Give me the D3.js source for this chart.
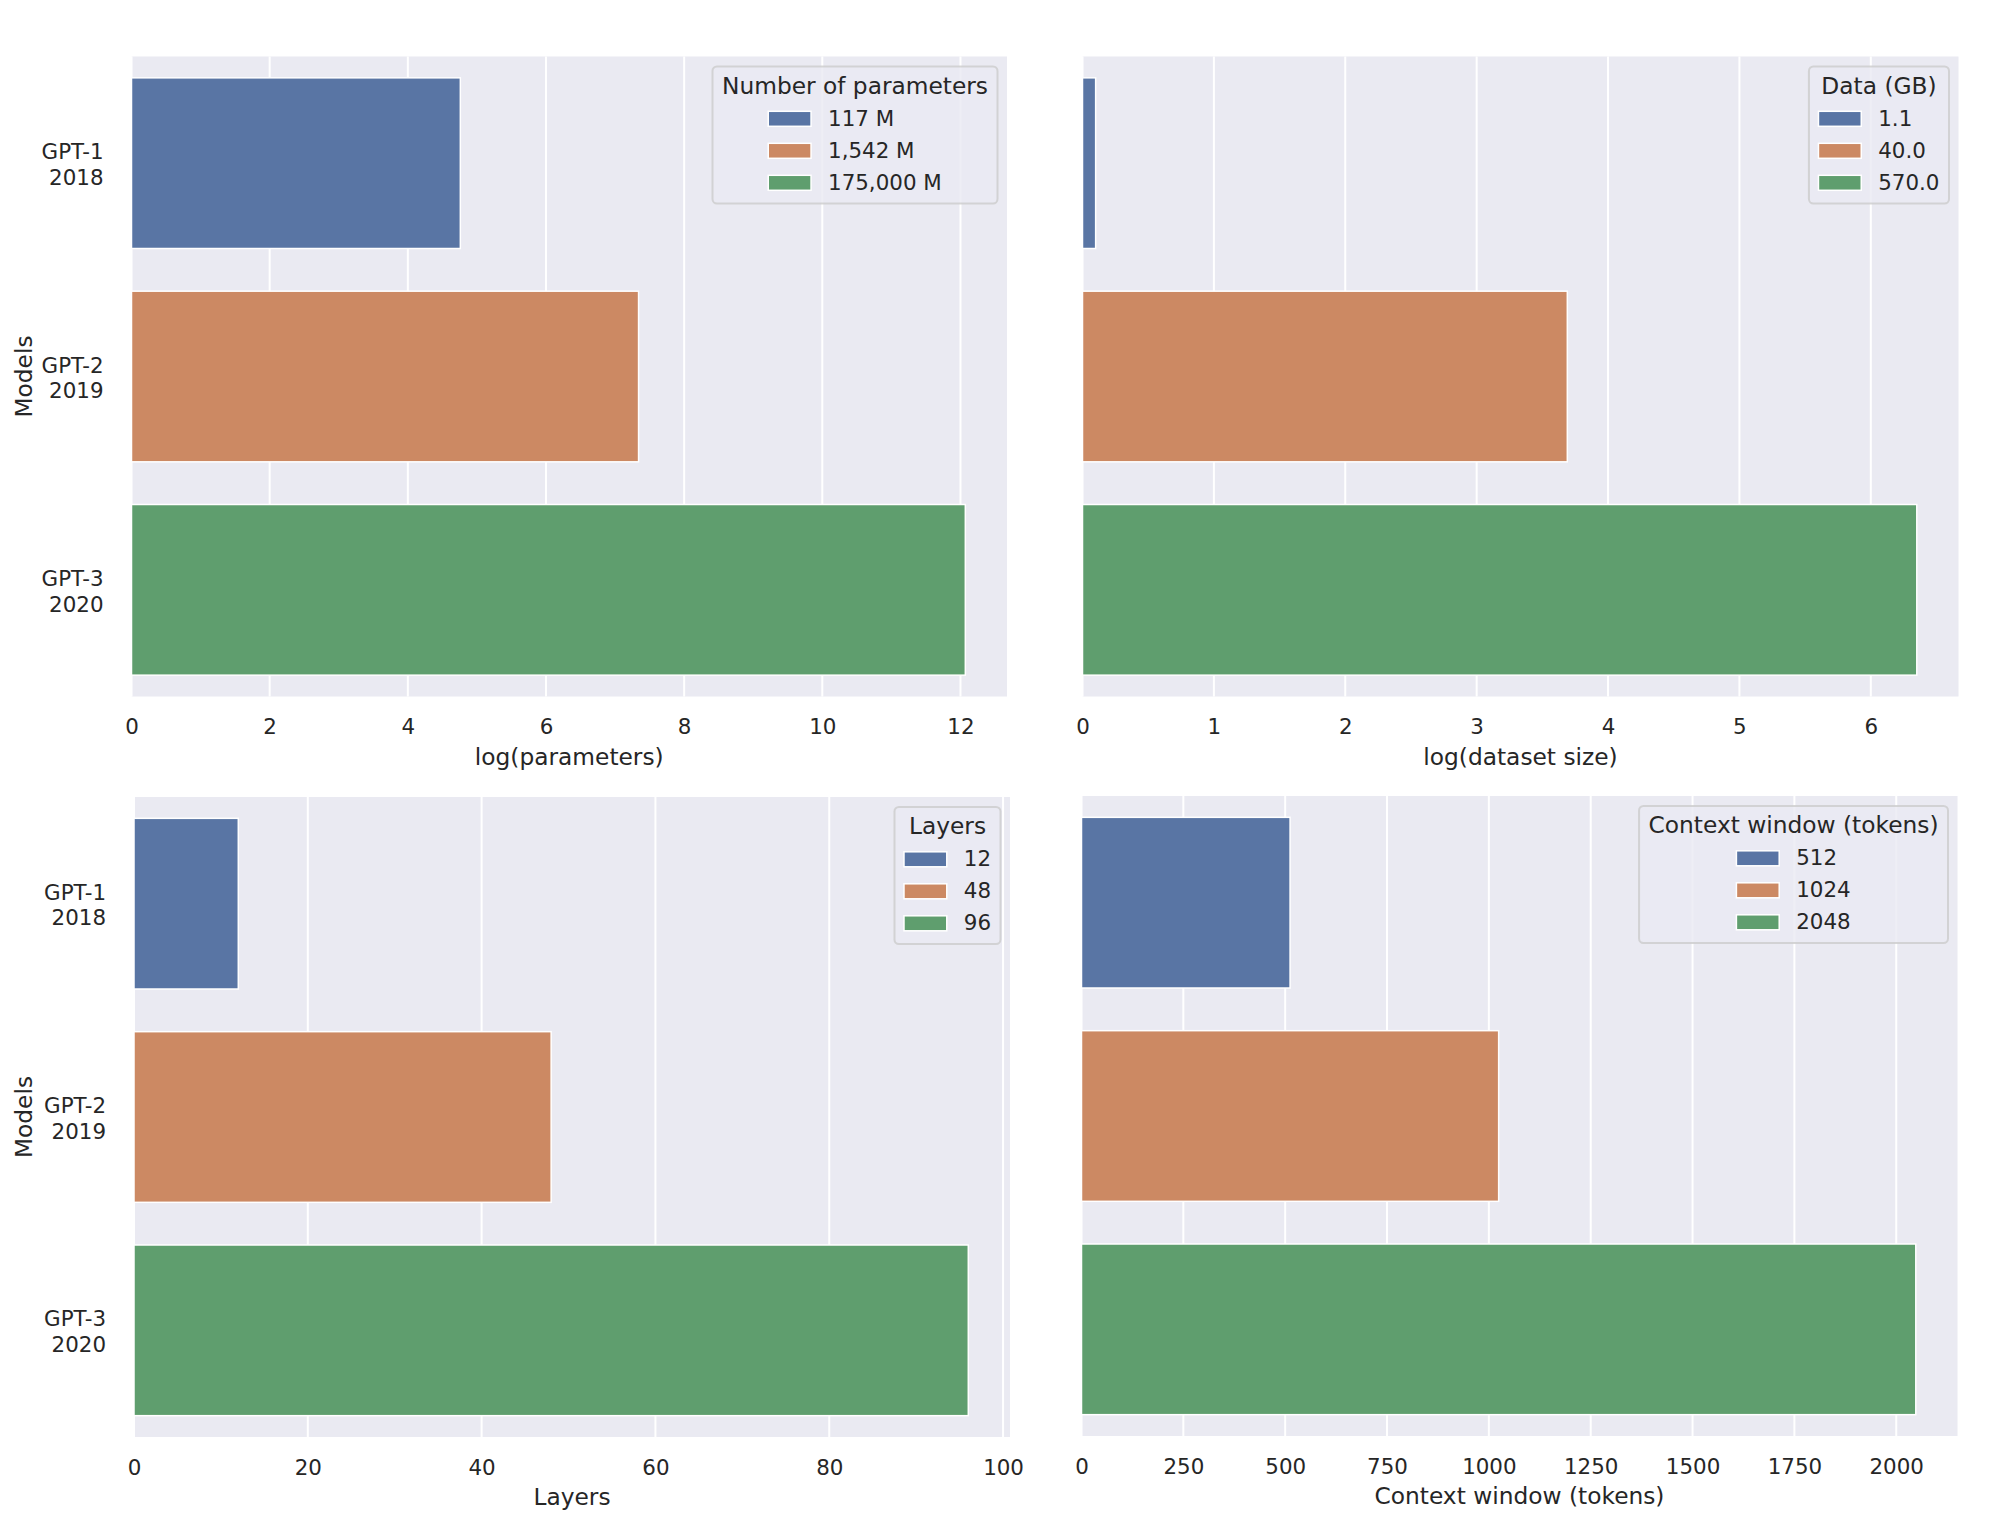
<!DOCTYPE html>
<html>
<head>
<meta charset="utf-8">
<script src="https://cdn.jsdelivr.net/npm/d3@7"></script>
<style>
  body { margin: 0; background: #fff; }
  text { font-family: "DejaVu Sans", sans-serif; fill: #262626; }
</style>
</head>
<body>
<svg id="chart"></svg>
<script>
// Data
const models = ["GPT-1\n2018", "GPT-2\n2019", "GPT-3\n2020"];
const colors = ["#5975a4", "#cc8963", "#5f9e6e"];

const logParams = [4.76, 7.34, 12.07];
const paramLabels = ["117 M", "1,542 M", "175,000 M"];
const paramTicks = [0, 2, 4, 6, 8, 10, 12];

const logData = [0.10, 3.69, 6.35];
const dataLabels = ["1.1", "40.0", "570.0"];
const dataTicks = [0, 1, 2, 3, 4, 5, 6];

const layers = [12, 48, 96];
const layerLabels = ["12", "48", "96"];
const layerTicks = [0, 20, 40, 60, 80, 100];

const contextWin = [512, 1024, 2048];
const contextLabels = ["512", "1024", "2048"];
const contextTicks = [0, 250, 500, 750, 1000, 1250, 1500, 1750, 2000];

const width = 1999;
const height = 1537;

const svg = d3.select("#chart").attr("width", width).attr("height", height);

// each panel: values, legend, axis box
const panels = [
  { values: logParams, legendTitle: "Number of parameters", legendLabels: paramLabels,
    ticks: paramTicks, xlabel: "log(parameters)", ylabel: true,
    box: { left: 131.5, right: 1007, top: 56.5, bottom: 696.5 } },
  { values: logData, legendTitle: "Data (GB)", legendLabels: dataLabels,
    ticks: dataTicks, xlabel: "log(dataset size)", ylabel: false,
    box: { left: 1082.5, right: 1958.5, top: 56.5, bottom: 696.5 } },
  { values: layers, legendTitle: "Layers", legendLabels: layerLabels,
    ticks: layerTicks, xlabel: "Layers", ylabel: true,
    box: { left: 134, right: 1010, top: 797, bottom: 1437 } },
  { values: contextWin, legendTitle: "Context window (tokens)", legendLabels: contextLabels,
    ticks: contextTicks, xlabel: "Context window (tokens)", ylabel: false,
    box: { left: 1081.5, right: 1957.5, top: 796, bottom: 1436 } },
];

const tickSize = 21.4;
const labelSize = 23.3;

panels.forEach((p) => {
  const b = p.box;
  const g = svg.append("g");

  const x = d3.scaleLinear()
    .domain([0, d3.max(p.values) * 1.05])
    .range([b.left, b.right]);
  const y = d3.scaleBand()
    .domain(models)
    .range([b.top, b.bottom])
    .paddingInner(0.2)
    .paddingOuter(0.1);

  // background
  g.append("rect")
    .attr("x", b.left).attr("y", b.top)
    .attr("width", b.right - b.left).attr("height", b.bottom - b.top)
    .attr("fill", "#eaeaf2");

  // grid
  g.append("g").selectAll("line")
    .data(p.ticks)
    .join("line")
    .attr("x1", (d) => x(d)).attr("x2", (d) => x(d))
    .attr("y1", b.top).attr("y2", b.bottom)
    .attr("stroke", "#fff").attr("stroke-width", 2);

  // bars
  g.append("g").selectAll("rect")
    .data(p.values)
    .join("rect")
    .attr("x", x(0))
    .attr("y", (d, i) => y(models[i]))
    .attr("width", (d) => x(d) - x(0))
    .attr("height", y.bandwidth())
    .attr("fill", (d, i) => colors[i])
    .attr("stroke", "#fff")
    .attr("stroke-width", 1.5);

  // x axis
  const xAxis = g.append("g")
    .attr("transform", `translate(0,${b.bottom})`)
    .call(d3.axisBottom(x).tickValues(p.ticks).tickSize(0).tickPadding(0).tickFormat(d3.format("d")));
  xAxis.select(".domain").remove();
  xAxis.selectAll("text")
    .attr("dy", null)
    .attr("y", 37.5)
    .style("font-size", tickSize + "px")
    .style("font-family", "DejaVu Sans")
    .attr("fill", "#262626");

  g.append("text")
    .attr("x", (b.left + b.right) / 2)
    .attr("y", b.bottom + 68)
    .attr("text-anchor", "middle")
    .style("font-size", labelSize + "px")
    .text(p.xlabel);

  // y tick labels (left column only)
  if (p.ylabel) {
    const yl = g.append("g").selectAll("text")
      .data(models)
      .join("text")
      .attr("text-anchor", "end")
      .style("font-size", tickSize + "px");
    yl.each(function (d) {
      const t = d3.select(this);
      const cy = y(d) + y.bandwidth() / 2;
      d.split("\n").forEach((line, k) => {
        t.append("tspan")
          .attr("x", b.left - 28)
          .attr("y", cy - 4 + k * 25.7)
          .text(line);
      });
    });

    g.append("text")
      .attr("transform", `translate(32,${(b.top + b.bottom) / 2}) rotate(-90)`)
      .attr("text-anchor", "middle")
      .style("font-size", labelSize + "px")
      .text("Models");
  }

  // legend
  const lg = g.append("g");
  const frame = lg.append("rect");
  const title = lg.append("text")
    .attr("text-anchor", "middle")
    .style("font-size", labelSize + "px")
    .text(p.legendTitle);
  const titleW = title.node().getComputedTextLength();

  const entries = lg.selectAll("g.entry")
    .data(p.legendLabels)
    .join("g")
    .attr("class", "entry");
  entries.append("rect")
    .attr("width", 42.8).attr("height", 15)
    .attr("fill", (d, i) => colors[i])
    .attr("stroke", "#fff").attr("stroke-width", 1.5);
  entries.append("text")
    .attr("x", 42.8 + 17)
    .attr("y", 15 - 0.5)
    .style("font-size", tickSize + "px")
    .text((d) => d);
  let entryW = 0;
  entries.each(function () {
    entryW = Math.max(entryW, this.getBBox().width);
  });

  const pad = 9.5;
  const boxW = Math.max(titleW, entryW) + 2 * pad;
  const boxH = 137;
  const bx = b.right - 9.5 - boxW;
  const by = b.top + 10;

  frame
    .attr("x", bx).attr("y", by)
    .attr("width", boxW).attr("height", boxH)
    .attr("rx", 4.5)
    .attr("fill", "#eaeaf2").attr("fill-opacity", 0.8)
    .attr("stroke", "#cccccc").attr("stroke-opacity", 0.8)
    .attr("stroke-width", 2);
  title.attr("x", bx + boxW / 2).attr("y", by + 27.3);
  const ex = bx + boxW / 2 - entryW / 2;
  entries.attr("transform", (d, i) => `translate(${ex},${by + 59.3 + i * 32 - 14.5})`);
});
</script>
</body>
</html>
